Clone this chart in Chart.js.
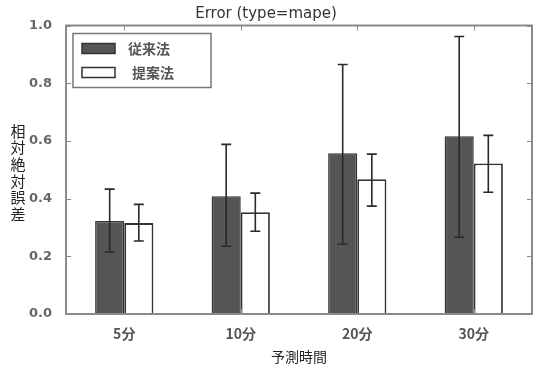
<!DOCTYPE html>
<html>
<head>
<meta charset="utf-8">
<script src="https://cdn.jsdelivr.net/npm/chart.js@4/dist/chart.umd.min.js"></script>
<style>
  html, body { margin: 0; padding: 0; background: #fff; }
  #wrap { width: 541px; height: 369px; }
</style>
</head>
<body>
<div id="wrap"><canvas id="chart" width="541" height="369"></canvas></div>
<script>
// --- data ---
const categories = ['5分', '10分', '20分', '30分'];
const seriesNames = ['従来法', '提案法'];
const conventional = [0.322, 0.408, 0.557, 0.616];
const conventionalLow = [0.215, 0.235, 0.242, 0.266];
const conventionalHigh = [0.433, 0.588, 0.865, 0.962];
const proposed = [0.315, 0.353, 0.467, 0.522];
const proposedLow = [0.253, 0.287, 0.374, 0.422];
const proposedHigh = [0.380, 0.419, 0.554, 0.619];
const yTicks = [0.0, 0.2, 0.4, 0.6, 0.8, 1.0];
const titleText = 'Error (type=mape)';
const xTitle = '予測時間';
const yTitle = '相対絶対誤差';

const CJK = '"Noto Sans CJK JP", "DejaVu Sans", sans-serif';
const FRAME = '#8a8a8a';

/* --- error bars drawn through the scales --- */
const errorBars = {
    id: 'errorBars',
    afterDatasetsDraw(chart) {
        const { ctx, scales: { y } } = chart;
        ctx.save();
        ctx.strokeStyle = '#2a2a2a';
        ctx.lineWidth = 1.6;
        chart.data.datasets.forEach((ds, i) => {
            const meta = chart.getDatasetMeta(i);
            meta.data.forEach((bar, j) => {
                const x = bar.x;
                const y1 = y.getPixelForValue(ds.errLow[j]);
                const y2 = y.getPixelForValue(ds.errHigh[j]);
                ctx.beginPath();
                ctx.moveTo(x, y1); ctx.lineTo(x, y2);
                ctx.moveTo(x - 5, y1); ctx.lineTo(x + 5, y1);
                ctx.moveTo(x - 5, y2); ctx.lineTo(x + 5, y2);
                ctx.stroke();
            });
        });
        ctx.restore();
    }
};

/* --- cadre + graduations intérieures (style matplotlib) --- */
const frame = {
    id: 'frame',
    afterDraw(chart) {
        const { ctx, chartArea: a, scales: { x, y } } = chart;
        ctx.save();
        ctx.strokeStyle = FRAME;
        ctx.lineWidth = 1;
        ctx.beginPath();
        yTicks.forEach(v => {
            const py = Math.round(y.getPixelForValue(v)) + 0.5;
            ctx.moveTo(a.left, py); ctx.lineTo(a.left + 5, py);
            ctx.moveTo(a.right, py); ctx.lineTo(a.right - 5, py);
        });
        categories.forEach((c, i) => {
            const px = Math.round(x.getPixelForValue(i)) + 0.5;
            ctx.moveTo(px, a.top); ctx.lineTo(px, a.top + 5);
            ctx.moveTo(px, a.bottom); ctx.lineTo(px, a.bottom - 5);
        });
        ctx.stroke();
        ctx.lineWidth = 2;
        ctx.strokeRect(a.left, a.top, a.right - a.left, a.bottom - a.top);
        ctx.restore();
    }
};

/* --- légende encadrée dans la zone de tracé --- */
const boxLegend = {
    id: 'boxLegend',
    afterDraw(chart) {
        const { ctx, chartArea: a } = chart;
        const bx = a.left + 7, by = a.top + 8;
        ctx.save();
        ctx.fillStyle = '#fff';
        ctx.fillRect(bx, by, 138, 54);
        ctx.strokeStyle = '#777';
        ctx.lineWidth = 1.5;
        ctx.strokeRect(bx, by, 138, 54);
        ctx.font = 'bold 14px ' + CJK;
        ctx.textBaseline = 'middle';
        chart.data.datasets.forEach((ds, i) => {
            const ry = by + 15 + i * 24;
            ctx.fillStyle = ds.backgroundColor;
            ctx.fillRect(bx + 9, ry - 5, 33, 10);
            ctx.strokeStyle = ds.borderColor;
            ctx.lineWidth = 1.5;
            ctx.strokeRect(bx + 9, ry - 5, 33, 10);
            ctx.fillStyle = '#555';
            ctx.fillText(ds.label, bx + 55 + i * 4, ry);
        });
        ctx.restore();
    }
};

/* --- titre vertical de l'axe Y (caractères empilés) --- */
const verticalTitle = {
    id: 'verticalTitle',
    afterDraw(chart) {
        const { ctx } = chart;
        ctx.save();
        ctx.font = '15px ' + CJK;
        ctx.fillStyle = '#222';
        ctx.textAlign = 'center';
        ctx.textBaseline = 'middle';
        [...yTitle].forEach((ch, i) => ctx.fillText(ch, 18, 131 + i * 16.6));
        ctx.restore();
    }
};

new Chart(document.getElementById('chart').getContext('2d'), {
    type: 'bar',
    data: {
        labels: categories,
        datasets: [
            {
                label: seriesNames[0], data: conventional,
                errLow: conventionalLow, errHigh: conventionalHigh,
                backgroundColor: '#555555', borderColor: '#333333', borderWidth: 1.5,
                categoryPercentage: 0.5, barPercentage: 1.0
            },
            {
                label: seriesNames[1], data: proposed,
                errLow: proposedLow, errHigh: proposedHigh,
                backgroundColor: '#ffffff', borderColor: '#333333', borderWidth: 1.8,
                categoryPercentage: 0.5, barPercentage: 1.0
            }
        ]
    },
    options: {
        responsive: false,
        animation: false,
        layout: { padding: { left: 0, right: 9, top: 0, bottom: 0 } },
        plugins: {
            legend: { display: false },
            tooltip: { enabled: false },
            title: {
                display: true, text: titleText, color: '#333',
                font: { size: 15, family: '"DejaVu Sans", sans-serif', weight: 'normal', lineHeight: 1.1 },
                padding: { top: 6, bottom: 3 }
            }
        },
        scales: {
            x: {
                grid: { display: false },
                border: { display: false },
                ticks: { color: '#555', font: { size: 14, weight: 'bold', family: CJK }, padding: 3 },
                title: { display: true, text: xTitle, color: '#222', font: { size: 14, family: CJK }, padding: { top: 0, bottom: 4 } },
                afterFit: s => { s.height = 55; }
            },
            y: {
                min: 0, max: 1,
                grid: { display: false },
                border: { display: false },
                afterBuildTicks: s => { s.ticks = yTicks.map(v => ({ value: v })); },
                ticks: {
                    color: '#666', padding: 6,
                    font: { size: 13, weight: 'bold', family: '"DejaVu Sans", sans-serif' },
                    callback: v => Number(v).toFixed(1)
                },
                afterFit: s => { s.width = 66; }
            }
        }
    },
    plugins: [errorBars, frame, boxLegend, verticalTitle]
});
</script>
</body>
</html>
